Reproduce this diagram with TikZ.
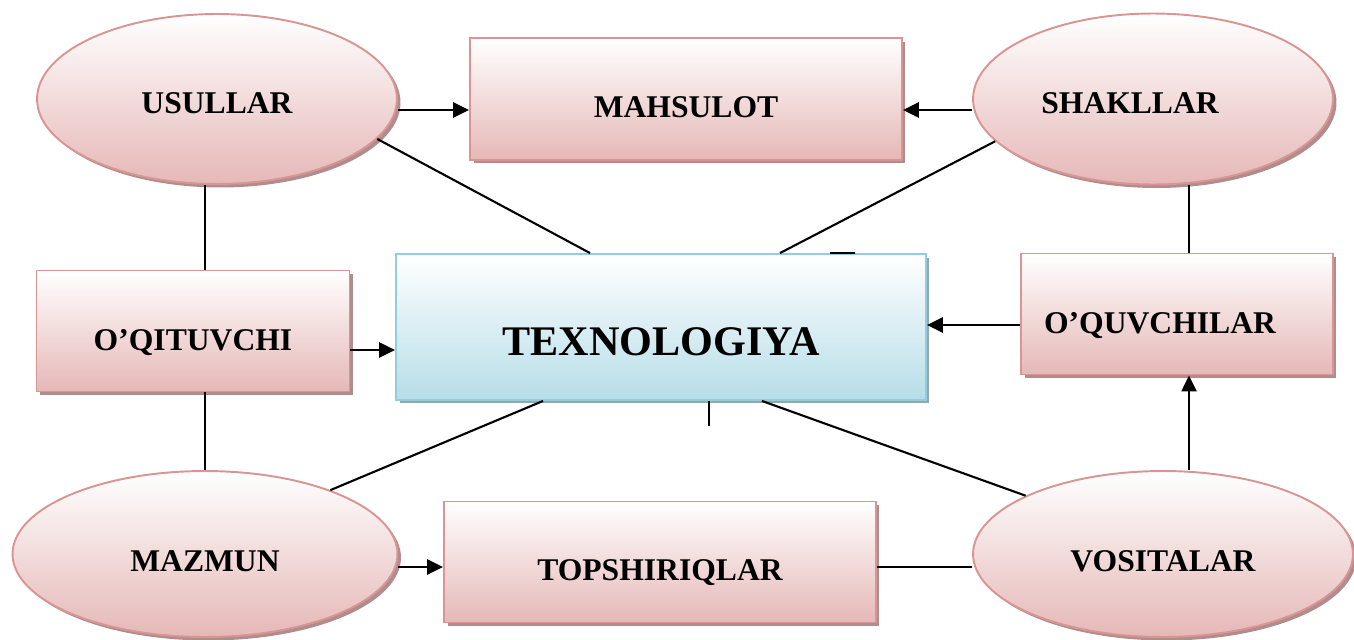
\documentclass[tikz,border=0pt]{standalone}
\usepackage{fontspec}
\setmainfont{Liberation Serif}
\usetikzlibrary{shapes.geometric,shadows,arrows.meta}
\definecolor{pinkedge}{HTML}{D99594}
\definecolor{pinkbot}{HTML}{E5B8B7}
\definecolor{pinkshade}{HTML}{B08C8C}
\definecolor{blueedge}{HTML}{93CDDD}
\definecolor{bluebot}{HTML}{B6DDE8}
\definecolor{blueshade}{HTML}{8FA9AE}
\begin{document}
\begin{tikzpicture}[x=0.02cm,y=-0.02cm,
    oval/.style={ellipse,draw=pinkedge,line width=1.1pt,top color=white,bottom color=pinkbot,
        drop shadow={shadow xshift=0.07cm,shadow yshift=-0.07cm,fill=pinkshade,opacity=1},
        inner sep=0pt,font=\bfseries\fontsize{18}{20}\selectfont},
    box/.style={rectangle,draw=pinkedge,line width=1.1pt,top color=white,bottom color=pinkbot,
        drop shadow={shadow xshift=0.07cm,shadow yshift=-0.07cm,fill=pinkshade,opacity=1},
        inner sep=0pt,font=\bfseries\fontsize{18}{20}\selectfont},
    lower/.style={text height=#1,text depth=0pt},
    link/.style={line width=1.2pt},
    arr/.style={line width=1.4pt,-{Triangle[length=0.32cm,width=0.3cm]}}]
        \useasboundingbox (0,0) rectangle (1354,639);

        %%%%%%%%%% Nodi %%%%%%%%%%
        \node (usul) at (217,99) [oval,lower=16.5pt,minimum width=7.2cm,minimum height=3.4cm] {USULLAR};
        \node (mahs) at (686,99) [box,lower=21pt,minimum width=8.64cm,minimum height=2.44cm] {MAHSULOT};
        \node (shak) at (1153,99) [oval,lower=16.5pt,minimum width=7.2cm,minimum height=3.42cm] {SHAKLLAR\kern0.92cm};
        \node (oqit) at (193,331) [box,lower=22pt,minimum width=6.26cm,minimum height=2.42cm] {O’QITUVCHI};
        \node (tex) at (661,327) [rectangle,draw=blueedge,line width=1.1pt,top color=white,bottom color=bluebot,
            drop shadow={shadow xshift=0.07cm,shadow yshift=-0.07cm,fill=blueshade,opacity=1},lower=33pt,
            minimum width=10.6cm,minimum height=2.92cm,font=\bfseries\fontsize{24}{28}\selectfont] {TEXNOLOGIYA};
        \node (oquv) at (1177,314) [box,lower=22pt,minimum width=6.24cm,minimum height=2.42cm] {O’QUVCHILAR\kern0.68cm};
        \node (mazm) at (205,554) [oval,lower=20pt,minimum width=7.7cm,minimum height=3.32cm] {MAZMUN};
        \node (topsh) at (660,562) [box,lower=21pt,minimum width=8.64cm,minimum height=2.42cm] {TOPSHIRIQLAR};
        \node (vosit) at (1163,554) [oval,lower=20pt,minimum width=7.6cm,minimum height=3.32cm] {VOSITALAR};

        %%%%%%%%% Frecce %%%%%%%%%
        \draw[arr] ([yshift=-0.22cm]usul.east) -- ([yshift=-0.22cm]mahs.west);
        \draw[arr] ([yshift=-0.22cm]shak.west) -- ([yshift=-0.22cm]mahs.east);
        \draw[arr] ([yshift=-0.38cm]oqit.east) -- ([yshift=-0.38cm]oqit.east -| tex.west);
        \draw[arr] ([yshift=-0.22cm]oquv.west) -- ([yshift=-0.22cm]oquv.west -| tex.east);
        \draw[arr] ([yshift=-0.26cm]mazm.east) -- ([yshift=-0.26cm]mazm.east -| topsh.west);
        \draw[arr] ([xshift=0.52cm]vosit.north) -- ([xshift=0.52cm]vosit.north |- oquv.south);

        %%%%%%%%% Linee %%%%%%%%%
        \draw[link] (usul.-14) -- ([xshift=-1.42cm]tex.north);
        \draw[link] (shak.195) -- ([xshift=2.38cm]tex.north);
        \draw[link] (mazm.27) -- ([xshift=-2.36cm]tex.south);
        \draw[link] (vosit.157) -- ([xshift=2.02cm]tex.south);
        \draw[link] ([xshift=-0.24cm]usul.south) -- ([xshift=-0.24cm]usul.south |- oqit.north);
        \draw[link] ([xshift=0.24cm]oqit.south) -- ([xshift=0.24cm]oqit.south |- mazm.north);
        \draw[link] ([xshift=0.72cm]shak.south) -- ([xshift=0.72cm]shak.south |- oquv.north);
        \draw[link] ([yshift=-0.1cm]topsh.east) -- ([yshift=-0.1cm]topsh.east -| vosit.west);
        \draw[link] ([xshift=3.38cm]tex.north) -- ++(25,0);
        \draw[link] ([xshift=0.96cm]tex.south) -- ++(0,25);
    \end{tikzpicture}
\end{document}
